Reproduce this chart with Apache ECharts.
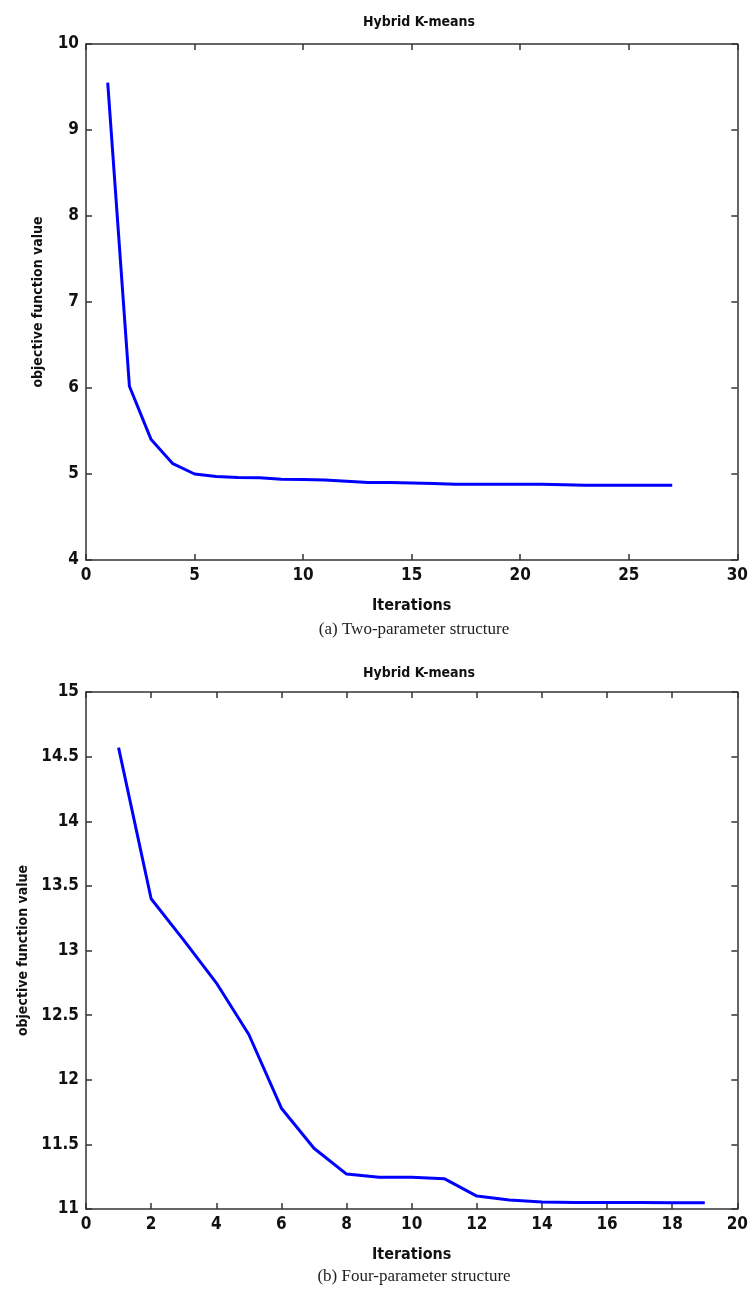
<!DOCTYPE html>
<html>
<head>
<meta charset="utf-8">
<script src="https://cdn.jsdelivr.net/npm/echarts@6/dist/echarts.min.js"></script>
<style>html,body{margin:0;padding:0;background:#fff}#c{width:751px;height:1294px}</style>
</head>
<body>
<div id="c"></div>
<script>
// Data
const itersA = [1,2,3,4,5,6,7,8,9,10,11,12,13,14,15,16,17,18,19,20,21,22,23,24,25,26,27];
const valuesA = [9.55,6.02,5.40,5.12,5.00,4.97,4.96,4.955,4.94,4.935,4.93,4.915,4.90,4.90,4.895,4.89,4.88,4.88,4.88,4.88,4.88,4.875,4.87,4.87,4.87,4.87,4.87];
const itersB = [1,2,3,4,5,6,7,8,9,10,11,12,13,14,15,16,17,18,19];
const valuesB = [14.57,13.40,13.08,12.75,12.35,11.78,11.47,11.27,11.245,11.245,11.235,11.10,11.07,11.055,11.05,11.05,11.05,11.048,11.048];
const titleText = "Hybrid K-means";
const xName = "Iterations";
const yName = "objective function value";
const captionA = "(a) Two-parameter structure";
const captionB = "(b) Four-parameter structure";

const chart = echarts.init(document.getElementById('c'), null, {renderer:'canvas'});
const tickFont = {fontFamily:'"DejaVu Sans Condensed","Liberation Sans Narrow","Arial Narrow",sans-serif', fontWeight:'bold', fontSize:17, color:'#111'};
const axisCol = '#333';
function xAxes(gi, max, interval){
  return [
    {type:'value', gridIndex:gi, min:0, max:max, interval:interval, position:'bottom',
     name:xName, nameLocation:'middle', nameGap:38,
     nameTextStyle:Object.assign({}, tickFont, {fontSize:16}),
     axisLine:{lineStyle:{color:axisCol, width:1.5}},
     axisTick:{inside:true, length:6, lineStyle:{color:axisCol, width:1.5}},
     axisLabel:Object.assign({margin:7}, tickFont),
     splitLine:{show:false}},
    {type:'value', gridIndex:gi, min:0, max:max, interval:interval, position:'top',
     axisLine:{show:true, onZero:false, lineStyle:{color:axisCol, width:1.5}},
     axisTick:{inside:true, length:6, lineStyle:{color:axisCol, width:1.5}},
     axisLabel:{show:false}, splitLine:{show:false}}
  ];
}
function yAxes(gi, min, max, interval){
  return [
    {type:'value', gridIndex:gi, min:min, max:max, interval:interval, position:'left',
     name:yName, nameLocation:'middle', nameGap:41,
     nameTextStyle:Object.assign({}, tickFont, {fontSize:14}),
     axisLine:{show:true, lineStyle:{color:axisCol, width:1.5}},
     axisTick:{show:true, inside:true, length:6, lineStyle:{color:axisCol, width:1.5}},
     axisLabel:Object.assign({margin:7}, tickFont),
     splitLine:{show:false}},
    {type:'value', gridIndex:gi, min:min, max:max, interval:interval, position:'right',
     axisLine:{show:true, onZero:false, lineStyle:{color:axisCol, width:1.5}},
     axisTick:{show:true, inside:true, length:6, lineStyle:{color:axisCol, width:1.5}},
     axisLabel:{show:false}, splitLine:{show:false}}
  ];
}
const option = {
  backgroundColor:'#fff',
  animation:false,
  title:[
    {text:titleText, left:414, top:10, textAlign:'center', textStyle:Object.assign({}, tickFont, {fontSize:14})},
    {text:titleText, left:414, top:661, textAlign:'center', textStyle:Object.assign({}, tickFont, {fontSize:14})}
  ],
  grid:[
    {left:86, top:44, width:656, height:516},
    {left:86, top:692, width:656, height:517}
  ],
  xAxis:[].concat(xAxes(0, 30, 5), xAxes(1, 20, 2)),
  yAxis:[].concat(yAxes(0, 4, 10, 1), yAxes(1, 11, 15, 0.5)),
  series:[
    {type:'line', xAxisIndex:0, yAxisIndex:0, data:itersA.map((x,i)=>[x, valuesA[i]]),
     showSymbol:false, lineStyle:{color:'#0000ff', width:3}, itemStyle:{color:'#0000ff'}},
    {type:'line', xAxisIndex:2, yAxisIndex:2, data:itersB.map((x,i)=>[x, valuesB[i]]),
     showSymbol:false, lineStyle:{color:'#0000ff', width:3}, itemStyle:{color:'#0000ff'}}
  ],
  graphic:[
    {type:'text', x:414, y:630, style:{text:captionA, fill:'#222', font:'17px "Liberation Serif","Times New Roman",serif', align:'center', verticalAlign:'middle'}},
    {type:'text', x:414, y:1277, style:{text:captionB, fill:'#222', font:'17px "Liberation Serif","Times New Roman",serif', align:'center', verticalAlign:'middle'}}
  ]
};
chart.setOption(option);
</script>
</body>
</html>
